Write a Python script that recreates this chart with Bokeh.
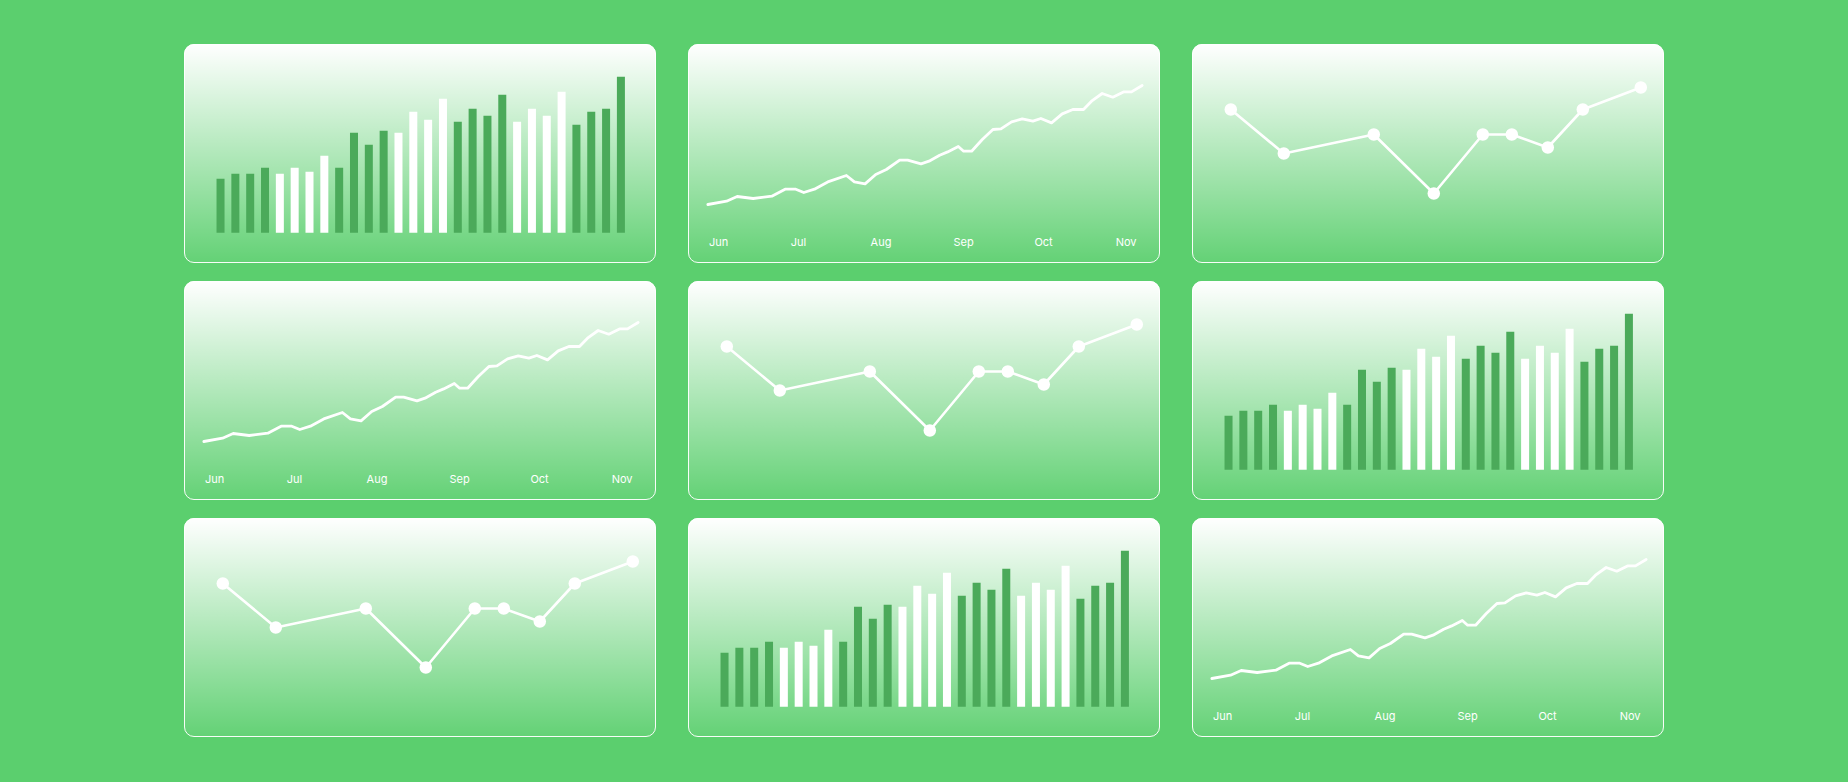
import pandas as pd
from bokeh.plotting import figure
from bokeh.layouts import row, column
from bokeh.models import Range1d, FixedTicker, DatetimeTickFormatter, ColumnDataSource
from bokeh.embed import file_html
from bokeh.resources import INLINE

PAGE_BG = "#5BCF6E"
DARK = "#4BAA5A"
WHITE = "#FFFFFF"

# ---- bar chart data ----
bar_values = [54, 59, 59, 65, 59, 65, 61, 77, 65, 100, 88, 102, 100, 121,
              113, 134, 111, 124, 117, 138, 111, 124, 117, 141, 108, 121, 124, 156]
bar_kind = ["dark", "dark", "dark", "dark", "light", "light", "light", "light",
            "dark", "dark", "dark", "dark", "light", "light", "light", "light",
            "dark", "dark", "dark", "dark", "light", "light", "light", "light",
            "dark", "dark", "dark", "dark"]

# ---- trend line data ----
trend_dates = ["2024-05-28", "2024-06-04", "2024-06-08", "2024-06-14", "2024-06-21",
               "2024-06-26", "2024-06-30", "2024-07-03", "2024-07-07", "2024-07-12",
               "2024-07-19", "2024-07-22", "2024-07-26", "2024-07-30", "2024-08-03",
               "2024-08-08", "2024-08-11", "2024-08-16", "2024-08-19", "2024-08-23",
               "2024-08-26", "2024-08-30", "2024-09-01", "2024-09-04", "2024-09-08",
               "2024-09-12", "2024-09-15", "2024-09-19", "2024-09-23", "2024-09-27",
               "2024-09-30", "2024-10-04", "2024-10-08", "2024-10-12", "2024-10-16",
               "2024-10-19", "2024-10-23", "2024-10-27", "2024-10-31", "2024-11-03",
               "2024-11-07"]
trend_values = [25, 28.3, 33, 31, 33.3, 40.3, 40.3, 37, 40.3, 47.6,
                54, 47.6, 45.6, 55, 60, 69.3, 69.3, 65.6, 68.3, 74.3,
                77.6, 83, 78.3, 78.3, 90, 100, 100.6, 107.6, 110.6, 108.3,
                111, 106.6, 115.6, 120, 120, 128.3, 136, 132.3, 137.6, 137.6,
                144]
month_ticks = ["2024-06-01", "2024-07-01", "2024-08-01", "2024-09-01",
               "2024-10-01", "2024-11-01"]

# ---- point line data ----
point_x = [0, 53, 143, 203, 252, 281, 317, 352, 410]
point_y = [135, 91, 110, 51, 110, 110, 97, 135, 157]

CARD_W, CARD_H = 472, 219
CARD_STYLES = {
    "background": f"linear-gradient(180deg, rgba(255,255,255,1) 0%, rgba(255,255,255,0.05) 100%), {PAGE_BG}",
    "border-radius": "10px",
    "outline": "1.5px solid rgba(255,255,255,0.95)",
    "outline-offset": "-1.5px",
    "overflow": "hidden",
}


def card(**kw):
    p = figure(width=CARD_W, height=CARD_H, output_backend="svg",
               toolbar_location=None, min_border=0, frame_align=False,
               background_fill_alpha=0, border_fill_alpha=0,
               outline_line_color=None, styles=dict(CARD_STYLES), **kw)
    p.grid.visible = False
    return p


def bar_card():
    src = ColumnDataSource(dict(
        x=list(range(len(bar_values))),
        top=bar_values,
        color=[DARK if k == "dark" else WHITE for k in bar_kind],
    ))
    p = card(x_range=Range1d(-2.43, 29.4), y_range=Range1d(-30.7, 188.3),
             x_axis_location=None, y_axis_location=None)
    p.vbar(x="x", top="top", bottom=0, width=0.54, fill_color="color",
           line_color=None, source=src)
    return p


def trend_card():
    dates = pd.to_datetime(trend_dates)
    jun1 = pd.Timestamp(month_ticks[0])
    p = card(x_axis_type="datetime",
             x_range=Range1d(jun1 - pd.Timedelta(days=11.27), jun1 + pd.Timedelta(days=165.9)),
             y_range=Range1d(0, 185), y_axis_location=None, min_border_bottom=34)
    p.grid.visible = False
    ax = p.xaxis[0]
    ax.ticker = FixedTicker(ticks=[pd.Timestamp(m).value / 1e6 for m in month_ticks])
    ax.formatter = DatetimeTickFormatter(months="%b", days="%b", hours="%b", years="%b")
    ax.axis_line_color = None
    ax.major_tick_line_color = None
    ax.minor_tick_line_color = None
    ax.major_tick_in = 0
    ax.major_tick_out = 0
    ax.minor_tick_in = 0
    ax.minor_tick_out = 0
    ax.major_label_standoff = 5
    ax.major_label_text_color = WHITE
    ax.major_label_text_font = "Inter"
    ax.major_label_text_font_size = "11px"
    p.line(dates, trend_values, line_color=WHITE, line_width=2.8,
           line_join="round", line_cap="round")
    return p


def points_card():
    p = card(x_range=Range1d(-38.3, 433.7), y_range=Range1d(-19, 200),
             x_axis_location=None, y_axis_location=None)
    p.line(point_x, point_y, line_color=WHITE, line_width=2.6, line_join="round")
    p.scatter(point_x, point_y, size=12.5, fill_color=WHITE, line_color=None)
    return p


layout = column(
    row(bar_card(), trend_card(), points_card(), spacing=32),
    row(trend_card(), points_card(), bar_card(), spacing=32),
    row(points_card(), bar_card(), trend_card(), spacing=32),
    spacing=18, margin=(44, 0, 0, 184),
)

html = file_html(layout, INLINE, title="Cards")
page_css = f"<style>html, body {{ background: {PAGE_BG} !important; }}</style>"
html = html.replace("</head>", page_css + "\n</head>", 1)
open("out.html", "w").write(html)
